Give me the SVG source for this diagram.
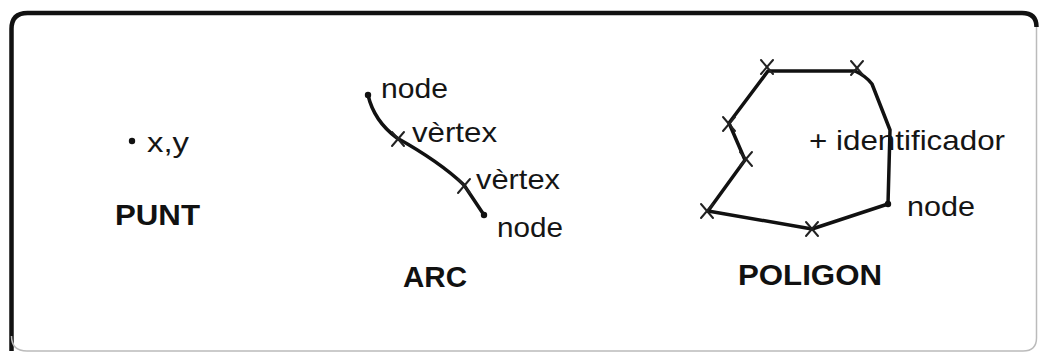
<svg xmlns="http://www.w3.org/2000/svg" width="1040" height="354" viewBox="0 0 1040 354">
  <defs>
    <style>
      .lbl { font-family: "Liberation Sans", Arial, Helvetica, sans-serif; font-size: 28px; fill: #151515; }
      .ttl { font-family: "Liberation Sans", Arial, Helvetica, sans-serif; font-size: 29px; font-weight: bold; fill: #111; }
      .edge { fill: none; stroke: #111; stroke-width: 3.5; stroke-linecap: round; stroke-linejoin: round; }
      .tick { fill: none; stroke: #222; stroke-width: 2; stroke-linecap: round; }
      .dot { fill: #111; }
    </style>
    <!-- vertex cross, centred on the origin -->
    <g id="vx">
      <line class="tick" x1="-6" y1="-7" x2="6" y2="7"/>
      <line class="tick" x1="6" y1="-7" x2="-6" y2="7"/>
    </g>
  </defs>

  <rect width="1040" height="354" fill="#fff"/>

  <!-- frame: heavy upper-left edges, lighter lower-right edges -->
  <g id="frame">
    <path d="M11.5,351 L11.5,29 Q11.5,13 27.5,13 L1022,13 Q1036.5,13 1036.5,27" fill="none" stroke="#111" stroke-width="4.5"/>
    <path d="M1036.5,27 L1036.5,338 Q1036.5,351 1023,351 L27,351 Q11.5,351 11.5,336" fill="none" stroke="#bbb" stroke-width="1.5"/>
  </g>

  <!-- point -->
  <g id="punt">
    <circle class="dot" cx="132" cy="141" r="3.2"/>
    <text class="lbl" x="147" y="152" font-size="32" textLength="42" lengthAdjust="spacingAndGlyphs">x,y</text>
    <text class="ttl" x="115" y="225" textLength="85" lengthAdjust="spacingAndGlyphs">PUNT</text>
  </g>

  <!-- arc: node, two vertices, node -->
  <g id="arc">
    <path class="edge" d="M368,95 Q374,121 397,138 Q440,162 464,185 Q476,203 484,215"/>
    <circle class="dot" cx="368" cy="95" r="3.2"/>
    <circle class="dot" cx="484" cy="215" r="3.2"/>
    <use href="#vx" x="398" y="139"/>
    <use href="#vx" x="464" y="186"/>
    <text class="lbl" x="381" y="98" textLength="67" lengthAdjust="spacingAndGlyphs">node</text>
    <text class="lbl" x="412" y="142" textLength="85" lengthAdjust="spacingAndGlyphs">vèrtex</text>
    <text class="lbl" x="476" y="189" textLength="84" lengthAdjust="spacingAndGlyphs">vèrtex</text>
    <text class="lbl" x="497" y="237" textLength="66" lengthAdjust="spacingAndGlyphs">node</text>
    <text class="ttl" x="403" y="287" textLength="64" lengthAdjust="spacingAndGlyphs">ARC</text>
  </g>

  <!-- polygon -->
  <g id="poligon">
    <path class="edge" d="M768,71 L855,71 Q866,76 872,84 L890,130 L888,204 L812,229 L708,211 L745,160 L729,123 Z"/>
    <circle class="dot" cx="888" cy="204" r="3.2"/>
    <use href="#vx" x="767" y="67"/>
    <use href="#vx" x="857" y="68"/>
    <use href="#vx" x="729" y="124"/>
    <use href="#vx" x="746" y="159"/>
    <use href="#vx" x="707" y="211"/>
    <use href="#vx" x="812" y="229"/>
    <text class="lbl" x="809" y="150" textLength="196" lengthAdjust="spacingAndGlyphs">+ identificador</text>
    <text class="lbl" x="907" y="216" textLength="68" lengthAdjust="spacingAndGlyphs">node</text>
    <text class="ttl" x="738" y="285" textLength="144" lengthAdjust="spacingAndGlyphs">POLIGON</text>
  </g>
</svg>
